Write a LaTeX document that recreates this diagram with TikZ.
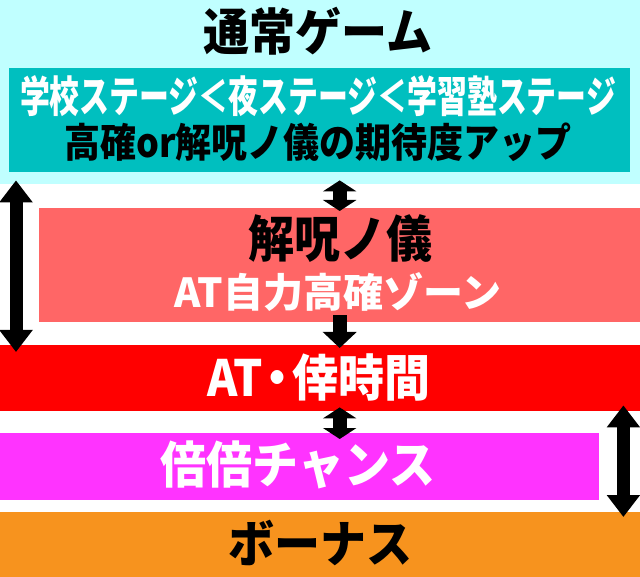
\documentclass[tikz,border=0pt]{standalone}
\usepackage{fontspec}
\usepackage{graphicx}
\newfontfamily\jpfont{Noto Sans CJK JP Black}
\usetikzlibrary{positioning, arrows.meta}
\definecolor{ngCyan}{RGB}{192, 255, 255}
\definecolor{ngTeal}{RGB}{0, 191, 191}
\definecolor{kjSalmon}{RGB}{255, 102, 102}
\definecolor{atRed}{RGB}{255, 0, 0}
\definecolor{bbMagenta}{RGB}{255, 51, 255}
\definecolor{bnOrange}{RGB}{247, 147, 30}
\tikzset{
    base/.style={
        inner sep=0pt,
        align=center
    },
    band/.style={
        rectangle,
        anchor=north west,
        inner sep=0pt,
        draw=none
    },
    heading/.style={
        base,
        font=\jpfont\fontsize{50}{52}\selectfont
    },
    subline/.style={
        base,
        font=\jpfont\fontsize{40}{42}\selectfont
    },
    longway/.style={
        {Triangle[width=32pt, length=22pt]}-{Triangle[width=32pt, length=22pt]},
        line width=13pt,
        color=black
    },
    shortway/.style={
        {Triangle[width=33pt, length=11pt]}-{Triangle[width=33pt, length=11pt]},
        line width=14pt,
        color=black
    },
    oneway/.style={
        -{Triangle[width=33pt, length=16pt]},
        line width=14pt,
        color=black
    }
}

\begin{document}
\begin{tikzpicture}[x=1pt, y=-1pt]
  \useasboundingbox (0,0) rectangle (640,577);

  % Bands
  \node[band, fill=ngCyan, minimum width=640pt, minimum height=184pt] (normal) at (0,0) {};
  \node[band, fill=ngTeal, minimum width=621pt, minimum height=104pt] (stage) at (9,68) {};
  \node[band, fill=kjSalmon, minimum width=601pt, minimum height=114pt] (zone) at (39,208) {};
  \node[band, fill=atRed, minimum width=640pt, minimum height=66pt] (at) at (0,345) {};
  \node[band, fill=bbMagenta, minimum width=599pt, minimum height=67pt] (chance) at (0,433) {};
  \node[band, fill=bnOrange, minimum width=640pt, minimum height=65pt] (bonus) at (0,512) {};

  % Texts
  \node[heading] (normalTitle) at (318,31) {\scalebox{0.92}[1]{通常ゲーム}};
  \node[subline, text=white] (stageOrder) at (318,96) {\scalebox{0.695}[1]{\fontsize{43}{45}\selectfont 学校ステージ＜夜ステージ＜学習塾ステージ}};
  \node[subline] (stageUp) at (318,142) {\scalebox{0.9}[1]{高確or解呪ノ儀の期待度アップ}};
  \node[heading] (zoneTitle) at (340,239) {\scalebox{0.92}[1]{解呪ノ儀}};
  \node[subline, text=white] (zoneSub) at (338,292) {AT自力高確ゾーン};
  \node[heading, text=white] (atTitle) at (319,377) {\scalebox{0.92}[1]{AT\hspace{-9pt}・\hspace{-9pt}倖時間}};
  \node[heading, text=white] (chanceTitle) at (298,465) {\scalebox{0.92}[1]{倍倍チャンス}};
  \node[heading] (bonusTitle) at (320,543) {\scalebox{0.92}[1]{ボーナス}};

  % Flow
  \coordinate (leftTop) at ([xshift=16pt, yshift=4pt]normal.south west);
  \coordinate (leftEnd) at ([xshift=16pt, yshift=-7pt]at.north west);
  \coordinate (rightTop) at ([xshift=-17pt, yshift=6pt]at.south east);
  \coordinate (rightEnd) at ([xshift=-17pt, yshift=-5pt]bonus.north east);
  \draw[longway] (leftTop) -- (leftEnd);
  \draw[longway] (rightTop) -- (rightEnd);
  \draw[shortway] ([yshift=4pt]normal.south -| zone.north) -- ([yshift=-3pt]zone.north);
  \draw[oneway] ([yshift=7pt]zone.south) -- ([yshift=-3pt]at.north -| zone.south);
  \draw[shortway] ([yshift=4pt]at.south -| zone.south) -- ([yshift=-6pt]chance.north -| zone.south);
\end{tikzpicture}
\end{document}
